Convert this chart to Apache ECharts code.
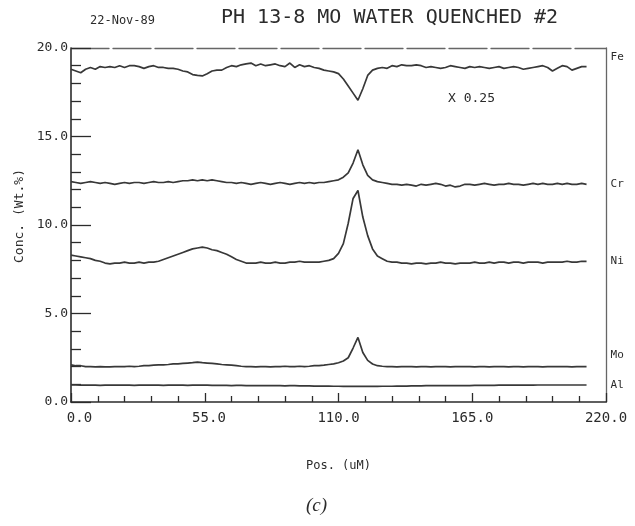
<!DOCTYPE html>
<html>
<head>
<meta charset="utf-8">
<script src="https://cdn.jsdelivr.net/npm/echarts@6/dist/echarts.min.js"></script>
<style>
  html, body { margin: 0; padding: 0; background: #fff; }
  #chart { width: 635px; height: 526px; }
</style>
</head>
<body>
<div id="chart"></div>
<script>
// Line-scan positions along the sample (µm)
const positions = [
  0, 2, 4, 6, 8, 10, 12, 14, 16, 18, 20,
  22, 24, 26, 28, 30, 32, 34, 36, 38, 40,
  42, 44, 46, 48, 50, 52, 54, 56, 58, 60,
  62, 64, 66, 68, 70, 72, 74, 76, 78, 80,
  82, 84, 86, 88, 90, 92, 94, 96, 98, 100,
  102, 104, 106, 108, 110, 112, 114, 116, 118, 120,
  122, 124, 126, 128, 130, 132, 134, 136, 138, 140,
  142, 144, 146, 148, 150, 152, 154, 156, 158, 160,
  162, 164, 166, 168, 170, 172, 174, 176, 178, 180,
  182, 184, 186, 188, 190, 192, 194, 196, 198, 200,
  202, 204, 206, 208, 210, 212
];

// Concentrations (wt.%); Fe is plotted at x 0.25
const fe = [
  18.8, 18.7, 18.6, 18.8, 18.9, 18.8, 18.95, 18.9, 18.95, 18.9, 19.0,
  18.9, 19.0, 19.0, 18.95, 18.85, 18.95, 19.0, 18.9, 18.9, 18.85,
  18.85, 18.8, 18.7, 18.65, 18.5, 18.45, 18.42, 18.55, 18.7, 18.75,
  18.75, 18.9, 19.0, 18.95, 19.05, 19.1, 19.15, 19.0, 19.1, 19.0,
  19.05, 19.1, 19.0, 18.95, 19.15, 18.9, 19.05, 18.95, 19.0, 18.9,
  18.85, 18.75, 18.7, 18.65, 18.55, 18.25, 17.85, 17.45, 17.05, 17.7,
  18.45, 18.75, 18.85, 18.9, 18.85, 19.0, 18.95, 19.05, 19.0, 19.0,
  19.05, 19.0, 18.9, 18.95, 18.9, 18.85, 18.9, 19.0, 18.95, 18.9,
  18.85, 18.95, 18.9, 18.95, 18.9, 18.85, 18.9, 18.95, 18.85, 18.9,
  18.95, 18.9, 18.8, 18.85, 18.9, 18.95, 19.0, 18.9, 18.7, 18.85,
  19.0, 18.95, 18.75, 18.85, 18.95, 18.95
];

const cr = [
  12.45, 12.4, 12.35, 12.4, 12.45, 12.4, 12.35, 12.4, 12.35, 12.3, 12.35,
  12.4, 12.35, 12.4, 12.4, 12.35, 12.4, 12.45, 12.4, 12.4, 12.45,
  12.4, 12.45, 12.5, 12.5, 12.55, 12.5, 12.55, 12.5, 12.55, 12.5,
  12.45, 12.4, 12.4, 12.35, 12.4, 12.35, 12.3, 12.35, 12.4, 12.35,
  12.3, 12.35, 12.4, 12.35, 12.3, 12.35, 12.4, 12.35, 12.4, 12.35,
  12.4, 12.4, 12.45, 12.5, 12.55, 12.7, 12.95, 13.5, 14.25, 13.4,
  12.8, 12.55, 12.45, 12.4, 12.35, 12.3, 12.3, 12.25, 12.3, 12.25,
  12.2, 12.3, 12.25, 12.3, 12.35, 12.3, 12.2, 12.25, 12.15, 12.2,
  12.3, 12.3, 12.25, 12.3, 12.35, 12.3, 12.25, 12.3, 12.3, 12.35,
  12.3, 12.3, 12.25, 12.3, 12.35, 12.3, 12.35, 12.3, 12.3, 12.35,
  12.3, 12.35, 12.3, 12.3, 12.35, 12.3
];

const ni = [
  8.3, 8.25, 8.2, 8.15, 8.1, 8.0, 7.95, 7.85, 7.8, 7.85, 7.85,
  7.9, 7.85, 7.85, 7.9, 7.85, 7.9, 7.9, 7.95, 8.05, 8.15,
  8.25, 8.35, 8.45, 8.55, 8.65, 8.7, 8.75, 8.7, 8.6, 8.55,
  8.45, 8.35, 8.2, 8.05, 7.95, 7.85, 7.85, 7.85, 7.9, 7.85,
  7.85, 7.9, 7.85, 7.85, 7.9, 7.9, 7.95, 7.9, 7.9, 7.9,
  7.9, 7.95, 8.0, 8.1, 8.4, 8.95, 10.1, 11.5, 11.95, 10.45,
  9.4, 8.65, 8.25, 8.1, 7.95, 7.9, 7.9, 7.85, 7.85, 7.8,
  7.85, 7.85, 7.8, 7.85, 7.85, 7.9, 7.85, 7.85, 7.8, 7.85,
  7.85, 7.85, 7.9, 7.85, 7.85, 7.9, 7.85, 7.9, 7.9, 7.85,
  7.9, 7.9, 7.85, 7.9, 7.9, 7.9, 7.85, 7.9, 7.9, 7.9,
  7.9, 7.95, 7.9, 7.9, 7.95, 7.95
];

const mo = [
  2.1, 2.05, 2.05, 2.0, 2.0, 1.98, 2.0, 1.98, 1.98, 2.0, 2.0,
  2.0, 2.02, 2.0, 2.02, 2.05, 2.05, 2.08, 2.1, 2.1, 2.12,
  2.15, 2.15, 2.18, 2.2, 2.22, 2.25, 2.22, 2.2, 2.18, 2.15,
  2.12, 2.1, 2.08, 2.05, 2.02, 2.0, 2.0, 1.98, 2.0, 2.0,
  1.98, 2.0, 2.0, 2.02, 2.0, 2.0, 2.02, 2.0, 2.02, 2.05,
  2.05, 2.08, 2.12, 2.15, 2.22, 2.32, 2.5, 3.05, 3.65, 2.8,
  2.35, 2.15, 2.05, 2.02, 2.0, 2.0, 1.98, 2.0, 2.0, 2.0,
  1.98, 2.0, 2.0, 1.98, 2.0, 2.0, 2.0, 1.98, 2.0, 2.0,
  2.0, 2.0, 1.98, 2.0, 2.0, 1.98, 2.0, 2.0, 2.0, 1.98,
  2.0, 2.0, 1.98, 2.0, 2.0, 2.0, 1.98, 2.0, 2.0, 2.0,
  2.0, 2.0, 1.98, 2.0, 2.0, 2.0
];

const al = [
  0.97, 0.96, 0.95, 0.95, 0.95, 0.95, 0.94, 0.95, 0.95, 0.95, 0.95,
  0.95, 0.95, 0.94, 0.95, 0.95, 0.95, 0.95, 0.95, 0.94, 0.95,
  0.95, 0.95, 0.95, 0.94, 0.95, 0.95, 0.95, 0.95, 0.94, 0.94,
  0.94, 0.94, 0.93, 0.94, 0.94, 0.93, 0.93, 0.93, 0.92, 0.92,
  0.92, 0.92, 0.92, 0.91, 0.92, 0.92, 0.91, 0.91, 0.91, 0.9,
  0.9, 0.9, 0.9, 0.89, 0.89, 0.88, 0.88, 0.88, 0.88, 0.88,
  0.88, 0.88, 0.88, 0.89, 0.89, 0.89, 0.9, 0.9, 0.9, 0.91,
  0.91, 0.91, 0.92, 0.92, 0.92, 0.92, 0.93, 0.93, 0.93, 0.93,
  0.93, 0.93, 0.94, 0.94, 0.94, 0.94, 0.94, 0.95, 0.95, 0.95,
  0.95, 0.95, 0.95, 0.95, 0.95, 0.96, 0.96, 0.96, 0.96, 0.96,
  0.96, 0.96, 0.96, 0.96, 0.96, 0.96
];

const elementNames = ['Fe', 'Cr', 'Ni', 'Mo', 'Al'];
const elementValues = [fe, cr, ni, mo, al];
// vertical nudge of each trace name relative to its last point
const nameShift = [-9, 0, 0, -11, 0];

const mono = 'DejaVu Sans Mono';
const ink = '#2b2b2b';
const traceColor = '#383838';

const chart = echarts.init(document.getElementById('chart'), null, { renderer: 'canvas' });

const series = elementNames.map((name, k) => ({
  name: name,
  type: 'line',
  xAxisIndex: 0,
  yAxisIndex: 0,
  showSymbol: false,
  symbol: 'none',
  smooth: false,
  clip: false,
  data: positions.map((p, i) => [p, elementValues[k][i]]),
  lineStyle: { color: traceColor, width: 1.7 },
  endLabel: {
    show: true,
    formatter: name,
    distance: 24,
    offset: [0, nameShift[k]],
    fontFamily: mono,
    fontSize: 11,
    color: ink
  }
}));

const option = {
  backgroundColor: '#ffffff',
  animation: false,
  title: [
    { text: '22-Nov-89', left: 90, top: 15, padding: 0,
      textStyle: { fontFamily: mono, fontSize: 12, fontWeight: 'normal', color: ink } },
    { text: 'PH 13-8 MO WATER QUENCHED #2', left: 221, top: 8, padding: 0,
      textStyle: { fontFamily: mono, fontSize: 20, fontWeight: 'normal', color: ink } },
    { text: 'X 0.25', left: 448, top: 92, padding: 0,
      textStyle: { fontFamily: mono, fontSize: 13, fontWeight: 'normal', color: ink } },
    { text: '(c)', left: 306, top: 496, padding: 0,
      textStyle: { fontFamily: 'Liberation Serif', fontSize: 19, fontStyle: 'italic', fontWeight: 'normal', color: ink } }
  ],
  grid: { left: 71, right: 29, top: 48, bottom: 124, containLabel: false },
  xAxis: [
    {
      type: 'value', position: 'bottom', min: 0, max: 220, interval: 55,
      axisLine: { show: true, onZero: false, lineStyle: { color: ink, width: 1.6 } },
      axisTick: { show: true, inside: true, length: 9, lineStyle: { color: ink, width: 1.3 } },
      minorTick: { show: true, splitNumber: 5, length: 6, lineStyle: { color: ink, width: 1.3 } },
      splitLine: { show: false },
      axisLabel: {
        margin: 9, fontFamily: mono, fontSize: 14, color: ink,
        formatter: v => v.toFixed(1).padStart(5, ' ')
      },
      name: 'Pos. (uM)', nameLocation: 'middle', nameGap: 58,
      nameTextStyle: { fontFamily: mono, fontSize: 12, color: ink }
    },
    {
      type: 'value', position: 'top', min: 0, max: 220,
      axisLine: { show: true, onZero: false, lineStyle: { color: '#666', width: 1.3, type: [38, 4] } },
      axisTick: { show: false }, axisLabel: { show: false }, splitLine: { show: false }
    }
  ],
  yAxis: [
    {
      type: 'value', position: 'left', min: 0, max: 20, interval: 5,
      axisLine: { show: true, onZero: false, lineStyle: { color: ink, width: 1.6 } },
      axisTick: { show: true, inside: true, length: 20, lineStyle: { color: ink, width: 1.3 } },
      minorTick: { show: true, splitNumber: 5, length: 10, lineStyle: { color: ink, width: 1.3 } },
      splitLine: { show: false },
      axisLabel: {
        margin: 3, fontFamily: mono, fontSize: 13, color: ink,
        formatter: v => v.toFixed(1)
      },
      name: 'Conc. (Wt.%)', nameLocation: 'middle', nameGap: 39,
      nameTextStyle: { fontFamily: mono, fontSize: 13, color: ink, padding: [0, 0, 0, 18] }
    },
    {
      type: 'value', position: 'right', min: 0, max: 20,
      axisLine: { show: true, onZero: false, lineStyle: { color: '#666', width: 1.3 } },
      axisTick: { show: false }, axisLabel: { show: false }, splitLine: { show: false }
    }
  ],
  series: series
};

chart.setOption(option);
</script>
</body>
</html>
